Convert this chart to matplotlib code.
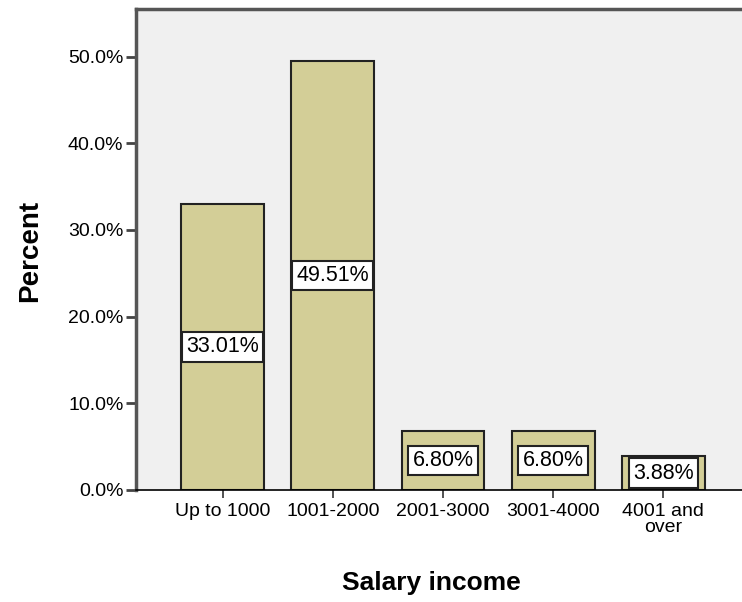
import matplotlib.pyplot as plt
import numpy as np

# ---------- 数据 ----------
categories = ['Up to 1000', '1001-2000', '2001-3000', '3001-4000', '4001 and\nover']
percents = [33.01, 49.51, 6.80, 6.80, 3.88]
yticks = [0, 10, 20, 30, 40, 50]


def main():
    plt.rcParams['font.family'] = ['Liberation Sans', 'DejaVu Sans']

    fig = plt.figure(figsize=(7.42, 6.02), dpi=100)
    # 坐标区右侧超出画布
    ax = fig.add_axes([136 / 742, 112 / 602, 620 / 742, 481 / 602])
    ax.set_facecolor('#F0F0F0')

    x = np.arange(len(categories))
    ax.bar(x, percents, width=0.75, color='#D3CE97', edgecolor='#222222',
           linewidth=1.5, zorder=2)

    # 柱子中部的百分比标签
    for xi, v in zip(x, percents):
        ax.text(xi, v / 2, '{:.2f}%'.format(v), ha='center', va='center',
                fontsize=15.5, color='black', zorder=3,
                bbox=dict(boxstyle='square,pad=0.2', fc='white',
                          ec='#222222', lw=1.5))

    ax.set_xlim(-0.786, 4.84)
    ax.set_ylim(0, 55.5)

    ax.set_xticks(x)
    ax.set_xticklabels(categories, fontsize=14, linespacing=1.0)
    ax.set_yticks(yticks)
    ax.set_yticklabels(['{:.1f}%'.format(t) for t in yticks], fontsize=14)

    ax.tick_params(axis='x', length=6, width=1.2, color='#333333', pad=3)
    ax.tick_params(axis='y', length=7, width=2, color='#444444', pad=2)

    ax.spines['right'].set_visible(False)
    ax.spines['top'].set_color('#555555')
    ax.spines['top'].set_linewidth(2.5)
    ax.spines['left'].set_color('#555555')
    ax.spines['left'].set_linewidth(2.5)
    ax.spines['bottom'].set_color('black')
    ax.spines['bottom'].set_linewidth(1.2)

    ax.set_xlabel('Salary income', fontsize=19, fontweight='bold')
    ax.set_ylabel('Percent', fontsize=20, fontweight='bold')
    ax.xaxis.set_label_coords(0.476, -0.168)
    ax.yaxis.set_label_coords(-0.15, 0.497)

    plt.savefig('out.png', dpi=100)
    plt.close()


if __name__ == '__main__':
    main()
